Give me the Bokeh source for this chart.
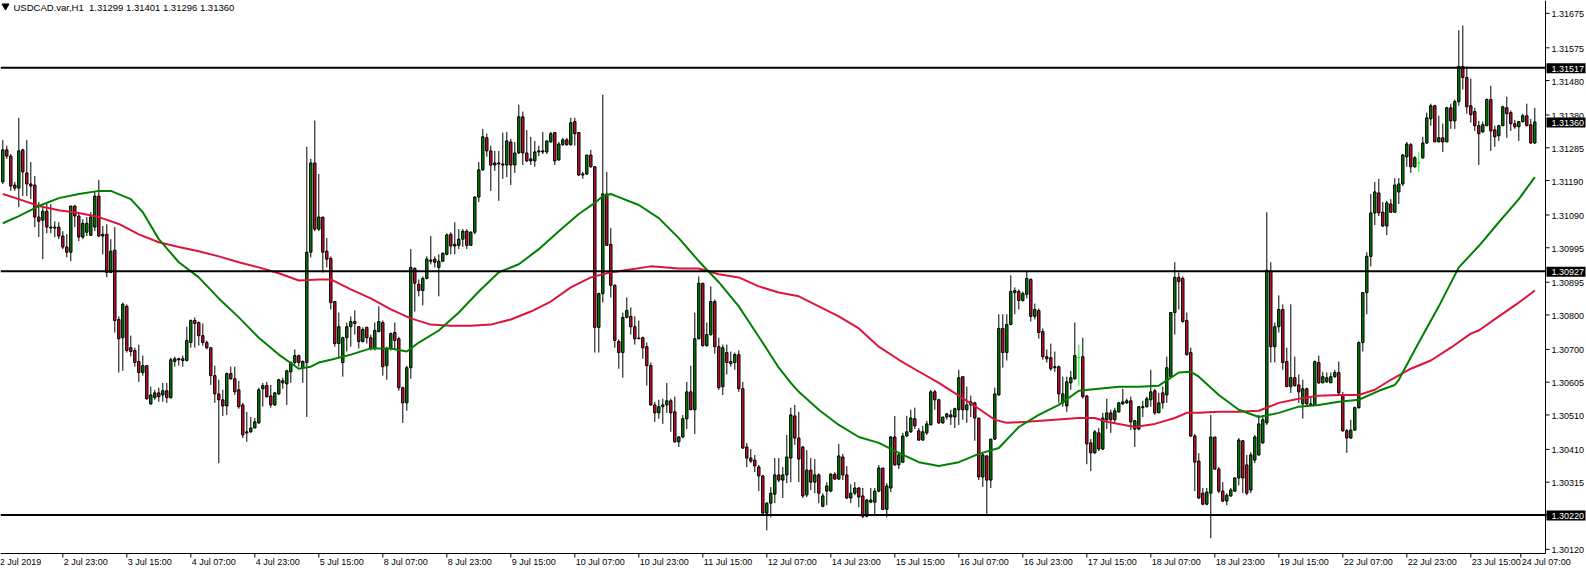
from bokeh.plotting import figure
from bokeh.models import ColumnDataSource, Range1d
from bokeh.core.properties import value
from bokeh.embed import file_html
from bokeh.resources import INLINE

symbol = "USDCAD.var,H1"

open_ = [
    1.31186, 1.31279, 1.31261, 1.31177, 1.31168, 1.31279, 1.31212, 1.31180, 1.31177, 1.31084, 1.31075, 1.31101, 1.31055, 1.31055, 1.31055, 1.31029,
    1.30997, 1.30982, 1.31116, 1.31087, 1.31026, 1.31040, 1.31031, 1.31055, 1.31145, 1.31034, 1.31034, 1.30923, 1.30988, 1.30787, 1.30734, 1.30825,
    1.30705, 1.30697, 1.30665, 1.30633, 1.30653, 1.30542, 1.30560, 1.30574, 1.30568, 1.30580, 1.30560, 1.30665, 1.30673, 1.30668, 1.30668, 1.30720,
    1.30784, 1.30778, 1.30740, 1.30720, 1.30705, 1.30624, 1.30571, 1.30554, 1.30536, 1.30630, 1.30615, 1.30583, 1.30539, 1.30461, 1.30461, 1.30472,
    1.30487, 1.30586, 1.30595, 1.30565, 1.30539, 1.30571, 1.30609, 1.30600, 1.30635, 1.30662, 1.30682, 1.30647, 1.30662, 1.30982, 1.31241, 1.31049,
    1.31084, 1.30985, 1.30964, 1.30839, 1.30717, 1.30662, 1.30734, 1.30766, 1.30781, 1.30766, 1.30723, 1.30764, 1.30734, 1.30703, 1.30752, 1.30778,
    1.30653, 1.30703, 1.30749, 1.30731, 1.30589, 1.30545, 1.30647, 1.30935, 1.30889, 1.30871, 1.30906, 1.30956, 1.30962, 1.30938, 1.30956, 1.30976,
    1.31034, 1.31000, 1.31002, 1.31020, 1.31043, 1.31002, 1.31040, 1.31142, 1.31221, 1.31314, 1.31276, 1.31241, 1.31241, 1.31238, 1.31235, 1.31302,
    1.31235, 1.31270, 1.31375, 1.31270, 1.31253, 1.31247, 1.31273, 1.31273, 1.31273, 1.31302, 1.31329, 1.31250, 1.31294, 1.31308, 1.31294, 1.31361,
    1.31329, 1.31209, 1.31209, 1.31264, 1.31230, 1.30764, 1.30862, 1.31151, 1.31005, 1.30886, 1.30723, 1.30691, 1.30793, 1.30796, 1.30766, 1.30733,
    1.30734, 1.30708, 1.30653, 1.30539, 1.30516, 1.30534, 1.30539, 1.30551, 1.30519, 1.30432, 1.30446, 1.30499, 1.30577, 1.30525, 1.30731, 1.30892,
    1.30711, 1.30743, 1.30839, 1.30708, 1.30592, 1.30691, 1.30665, 1.30662, 1.30685, 1.30586, 1.30417, 1.30385, 1.30379, 1.30359, 1.30333, 1.30225,
    1.30254, 1.30280, 1.30336, 1.30321, 1.30336, 1.30385, 1.30507, 1.30443, 1.30417, 1.30278, 1.30350, 1.30315, 1.30336, 1.30245, 1.30289, 1.30289,
    1.30338, 1.30324, 1.30388, 1.30336, 1.30269, 1.30283, 1.30298, 1.30275, 1.30216, 1.30257, 1.30257, 1.30289, 1.30356, 1.30236, 1.30298, 1.30446,
    1.30365, 1.30373, 1.30449, 1.30461, 1.30499, 1.30464, 1.30437, 1.30458, 1.30481, 1.30577, 1.30554, 1.30487, 1.30504, 1.30510, 1.30504, 1.30525,
    1.30621, 1.30525, 1.30539, 1.30545, 1.30501, 1.30330, 1.30391, 1.30321, 1.30440, 1.30568, 1.30761, 1.30691, 1.30772, 1.30865, 1.30868, 1.30842,
    1.30860, 1.30903, 1.30796, 1.30813, 1.30752, 1.30679, 1.30676, 1.30650, 1.30650, 1.30545, 1.30536, 1.30603, 1.30615, 1.30676, 1.30679, 1.30565,
    1.30429, 1.30400, 1.30458, 1.30411, 1.30496, 1.30516, 1.30496, 1.30519, 1.30542, 1.30545, 1.30551, 1.30469, 1.30469, 1.30531, 1.30534, 1.30554,
    1.30580, 1.30516, 1.30574, 1.30568, 1.30621, 1.30807, 1.30909, 1.30906, 1.30784, 1.30691, 1.30449, 1.30376, 1.30283, 1.30251, 1.30283, 1.30446,
    1.30353, 1.30289, 1.30260, 1.30275, 1.30289, 1.30327, 1.30435, 1.30365, 1.30292, 1.30379, 1.30394, 1.30429, 1.30487, 1.30927, 1.30708, 1.30766,
    1.30816, 1.30665, 1.30592, 1.30618, 1.30597, 1.30542, 1.30586, 1.30539, 1.30539, 1.30662, 1.30603, 1.30606, 1.30603, 1.30621, 1.30633, 1.30568,
    1.30464, 1.30443, 1.30466, 1.30531, 1.30720, 1.30865, 1.30970, 1.31096, 1.31154, 1.31098, 1.31058, 1.31122, 1.31098, 1.31157, 1.31180, 1.31259,
    1.31294, 1.31230, 1.31241, 1.31256, 1.31299, 1.31369, 1.31407, 1.31302, 1.31314, 1.31302, 1.31401, 1.31363, 1.31419, 1.31521, 1.31489, 1.31407,
    1.31390, 1.31349, 1.31331, 1.31349, 1.31425, 1.31337, 1.31320, 1.31349, 1.31401, 1.31387, 1.31355, 1.31346, 1.31361, 1.31378, 1.31352, 1.31299,
]

high = [
    1.31308, 1.31291, 1.31267, 1.31186, 1.31372, 1.31282, 1.31308, 1.31244, 1.31203, 1.31128, 1.31116, 1.31128, 1.31122, 1.31072, 1.31069, 1.31043,
    1.31034, 1.31116, 1.31119, 1.31093, 1.31078, 1.31084, 1.31098, 1.31157, 1.31192, 1.31058, 1.31063, 1.31020, 1.31055, 1.30796, 1.30836, 1.30831,
    1.30740, 1.30705, 1.30714, 1.30682, 1.30653, 1.30592, 1.30583, 1.30589, 1.30603, 1.30603, 1.30676, 1.30679, 1.30676, 1.30682, 1.30766, 1.30787,
    1.30793, 1.30781, 1.30775, 1.30726, 1.30705, 1.30653, 1.30612, 1.30583, 1.30633, 1.30650, 1.30650, 1.30609, 1.30545, 1.30519, 1.30504, 1.30501,
    1.30589, 1.30603, 1.30606, 1.30597, 1.30577, 1.30615, 1.30618, 1.30641, 1.30665, 1.30700, 1.30685, 1.30668, 1.31288, 1.31253, 1.31364, 1.31209,
    1.31084, 1.31023, 1.30970, 1.30839, 1.30807, 1.30737, 1.30778, 1.30796, 1.30813, 1.30766, 1.30764, 1.30766, 1.30743, 1.30778, 1.30825, 1.30784,
    1.30708, 1.30749, 1.30778, 1.30737, 1.30592, 1.30653, 1.30991, 1.30938, 1.30903, 1.30912, 1.30970, 1.31029, 1.30970, 1.30976, 1.30982, 1.31037,
    1.31040, 1.31069, 1.31049, 1.31049, 1.31049, 1.31043, 1.31145, 1.31244, 1.31340, 1.31326, 1.31291, 1.31276, 1.31276, 1.31329, 1.31331, 1.31311,
    1.31302, 1.31410, 1.31390, 1.31337, 1.31317, 1.31305, 1.31291, 1.31331, 1.31305, 1.31331, 1.31331, 1.31302, 1.31314, 1.31314, 1.31372, 1.31372,
    1.31331, 1.31215, 1.31264, 1.31279, 1.31232, 1.30865, 1.31439, 1.31215, 1.31052, 1.30889, 1.30729, 1.30807, 1.30851, 1.30822, 1.30796, 1.30784,
    1.30737, 1.30720, 1.30662, 1.30548, 1.30554, 1.30557, 1.30603, 1.30557, 1.30563, 1.30449, 1.30510, 1.30606, 1.30653, 1.30807, 1.30912, 1.30892,
    1.30778, 1.30883, 1.30845, 1.30734, 1.30714, 1.30714, 1.30694, 1.30691, 1.30697, 1.30606, 1.30429, 1.30411, 1.30394, 1.30365, 1.30336, 1.30257,
    1.30301, 1.30385, 1.30385, 1.30359, 1.30452, 1.30531, 1.30539, 1.30519, 1.30420, 1.30408, 1.30385, 1.30382, 1.30341, 1.30283, 1.30315, 1.30341,
    1.30344, 1.30426, 1.30397, 1.30362, 1.30309, 1.30315, 1.30301, 1.30298, 1.30266, 1.30298, 1.30298, 1.30365, 1.30356, 1.30312, 1.30449, 1.30507,
    1.30402, 1.30458, 1.30507, 1.30525, 1.30531, 1.30472, 1.30478, 1.30493, 1.30583, 1.30583, 1.30557, 1.30504, 1.30516, 1.30525, 1.30531, 1.30641,
    1.30621, 1.30592, 1.30566, 1.30548, 1.30501, 1.30402, 1.30394, 1.30440, 1.30589, 1.30802, 1.30802, 1.30802, 1.30915, 1.30880, 1.30874, 1.30868,
    1.30927, 1.30906, 1.30833, 1.30819, 1.30761, 1.30700, 1.30717, 1.30694, 1.30653, 1.30621, 1.30621, 1.30638, 1.30778, 1.30714, 1.30734, 1.30568,
    1.30440, 1.30466, 1.30472, 1.30516, 1.30557, 1.30525, 1.30531, 1.30548, 1.30586, 1.30557, 1.30563, 1.30496, 1.30534, 1.30551, 1.30563, 1.30641,
    1.30586, 1.30574, 1.30592, 1.30679, 1.30807, 1.30953, 1.30923, 1.30912, 1.30807, 1.30705, 1.30455, 1.30399, 1.30298, 1.30298, 1.30510, 1.30446,
    1.30359, 1.30315, 1.30283, 1.30298, 1.30330, 1.30443, 1.30437, 1.30394, 1.30402, 1.30452, 1.30510, 1.30510, 1.31098, 1.30953, 1.30778, 1.30857,
    1.30831, 1.30705, 1.30831, 1.30679, 1.30627, 1.30612, 1.30589, 1.30563, 1.30668, 1.30682, 1.30635, 1.30633, 1.30633, 1.30641, 1.30665, 1.30577,
    1.30469, 1.30496, 1.30534, 1.30723, 1.30865, 1.30982, 1.31151, 1.31186, 1.31195, 1.31128, 1.31131, 1.31136, 1.31197, 1.31197, 1.31267, 1.31302,
    1.31299, 1.31261, 1.31273, 1.31317, 1.31387, 1.31413, 1.31410, 1.31378, 1.31355, 1.31404, 1.31413, 1.31425, 1.31626, 1.31640, 1.31521, 1.31486,
    1.31401, 1.31363, 1.31361, 1.31428, 1.31465, 1.31349, 1.31352, 1.31407, 1.31433, 1.31393, 1.31366, 1.31363, 1.31384, 1.31413, 1.31369, 1.31401,
]

low = [
    1.31180, 1.31253, 1.31160, 1.31160, 1.31113, 1.31145, 1.31145, 1.31136, 1.31055, 1.31026, 1.30962, 1.31037, 1.31037, 1.31026, 1.31020, 1.30991,
    1.30967, 1.30956, 1.31055, 1.31014, 1.31020, 1.31029, 1.31029, 1.31043, 1.31026, 1.30976, 1.30909, 1.30923, 1.30749, 1.30633, 1.30638, 1.30691,
    1.30680, 1.30650, 1.30606, 1.30624, 1.30554, 1.30539, 1.30554, 1.30548, 1.30548, 1.30545, 1.30557, 1.30650, 1.30653, 1.30650, 1.30665, 1.30705,
    1.30705, 1.30711, 1.30711, 1.30700, 1.30597, 1.30545, 1.30370, 1.30507, 1.30510, 1.30612, 1.30568, 1.30528, 1.30443, 1.30432, 1.30458, 1.30472,
    1.30484, 1.30534, 1.30560, 1.30531, 1.30536, 1.30568, 1.30586, 1.30539, 1.30603, 1.30656, 1.30650, 1.30603, 1.30504, 1.30967, 1.31043, 1.31043,
    1.30923, 1.30938, 1.30816, 1.30708, 1.30676, 1.30621, 1.30694, 1.30708, 1.30743, 1.30703, 1.30720, 1.30717, 1.30697, 1.30697, 1.30749, 1.30624,
    1.30612, 1.30697, 1.30700, 1.30580, 1.30487, 1.30522, 1.30615, 1.30810, 1.30854, 1.30828, 1.30903, 1.30947, 1.30938, 1.30854, 1.30953, 1.30973,
    1.30976, 1.30976, 1.30991, 1.30997, 1.30991, 1.31000, 1.31034, 1.31128, 1.31218, 1.31259, 1.31160, 1.31218, 1.31131, 1.31195, 1.31200, 1.31177,
    1.31212, 1.31267, 1.31235, 1.31244, 1.31235, 1.31230, 1.31261, 1.31267, 1.31267, 1.31300, 1.31235, 1.31247, 1.31291, 1.31291, 1.31291, 1.31291,
    1.31203, 1.31195, 1.31206, 1.31227, 1.30691, 1.30691, 1.30836, 1.31000, 1.30851, 1.30705, 1.30644, 1.30618, 1.30790, 1.30743, 1.30714, 1.30731,
    1.30673, 1.30595, 1.30536, 1.30490, 1.30499, 1.30484, 1.30516, 1.30461, 1.30429, 1.30417, 1.30443, 1.30469, 1.30525, 1.30455, 1.30729, 1.30708,
    1.30708, 1.30740, 1.30688, 1.30583, 1.30568, 1.30627, 1.30650, 1.30641, 1.30577, 1.30411, 1.30359, 1.30370, 1.30344, 1.30289, 1.30225, 1.30175,
    1.30213, 1.30254, 1.30315, 1.30269, 1.30312, 1.30315, 1.30423, 1.30315, 1.30269, 1.30272, 1.30292, 1.30283, 1.30254, 1.30242, 1.30248, 1.30286,
    1.30321, 1.30321, 1.30321, 1.30266, 1.30254, 1.30277, 1.30242, 1.30210, 1.30213, 1.30254, 1.30216, 1.30286, 1.30234, 1.30213, 1.30286, 1.30362,
    1.30353, 1.30370, 1.30446, 1.30458, 1.30469, 1.30435, 1.30435, 1.30452, 1.30481, 1.30525, 1.30484, 1.30484, 1.30496, 1.30481, 1.30472, 1.30481,
    1.30496, 1.30487, 1.30504, 1.30435, 1.30321, 1.30301, 1.30222, 1.30298, 1.30437, 1.30566, 1.30647, 1.30668, 1.30772, 1.30802, 1.30816, 1.30839,
    1.30848, 1.30781, 1.30787, 1.30731, 1.30670, 1.30662, 1.30638, 1.30635, 1.30545, 1.30534, 1.30519, 1.30583, 1.30612, 1.30595, 1.30557, 1.30367,
    1.30347, 1.30397, 1.30405, 1.30408, 1.30469, 1.30458, 1.30487, 1.30516, 1.30539, 1.30542, 1.30466, 1.30417, 1.30466, 1.30504, 1.30531, 1.30534,
    1.30510, 1.30516, 1.30528, 1.30545, 1.30621, 1.30743, 1.30816, 1.30778, 1.30682, 1.30446, 1.30289, 1.30266, 1.30248, 1.30248, 1.30152, 1.30350,
    1.30283, 1.30257, 1.30248, 1.30272, 1.30286, 1.30306, 1.30283, 1.30277, 1.30283, 1.30370, 1.30391, 1.30426, 1.30481, 1.30662, 1.30662, 1.30749,
    1.30641, 1.30592, 1.30574, 1.30592, 1.30545, 1.30499, 1.30536, 1.30536, 1.30536, 1.30600, 1.30603, 1.30603, 1.30603, 1.30618, 1.30568, 1.30461,
    1.30400, 1.30440, 1.30464, 1.30528, 1.30694, 1.30802, 1.30941, 1.31061, 1.31087, 1.31055, 1.31032, 1.31096, 1.31096, 1.31122, 1.31174, 1.31230,
    1.31212, 1.31227, 1.31215, 1.31253, 1.31296, 1.31349, 1.31302, 1.31302, 1.31273, 1.31302, 1.31340, 1.31340, 1.31407, 1.31454, 1.31384, 1.31358,
    1.31334, 1.31235, 1.31329, 1.31349, 1.31276, 1.31288, 1.31305, 1.31349, 1.31314, 1.31334, 1.31340, 1.31305, 1.31358, 1.31349, 1.31296, 1.31296,
]

close = [
    1.31279, 1.31261, 1.31174, 1.31168, 1.31276, 1.31215, 1.31180, 1.31174, 1.31084, 1.31072, 1.31101, 1.31055, 1.31052, 1.31052, 1.31029, 1.30997,
    1.30982, 1.31116, 1.31087, 1.31026, 1.31066, 1.31066, 1.31084, 1.31145, 1.31029, 1.31029, 1.30923, 1.30985, 1.30784, 1.30731, 1.30831, 1.30697,
    1.30694, 1.30662, 1.30633, 1.30653, 1.30557, 1.30568, 1.30574, 1.30563, 1.30580, 1.30560, 1.30670, 1.30673, 1.30670, 1.30673, 1.30726, 1.30784,
    1.30775, 1.30740, 1.30720, 1.30705, 1.30624, 1.30571, 1.30554, 1.30536, 1.30630, 1.30615, 1.30577, 1.30534, 1.30452, 1.30458, 1.30472, 1.30490,
    1.30583, 1.30595, 1.30563, 1.30539, 1.30574, 1.30612, 1.30603, 1.30638, 1.30662, 1.30682, 1.30662, 1.30665, 1.30982, 1.31241, 1.31049, 1.31084,
    1.30982, 1.30962, 1.30836, 1.30717, 1.30766, 1.30734, 1.30766, 1.30781, 1.30775, 1.30723, 1.30758, 1.30734, 1.30703, 1.30755, 1.30781, 1.30650,
    1.30703, 1.30746, 1.30726, 1.30589, 1.30545, 1.30647, 1.30938, 1.30892, 1.30871, 1.30906, 1.30962, 1.30959, 1.30953, 1.30956, 1.30979, 1.31032,
    1.31000, 1.31005, 1.31020, 1.31043, 1.31002, 1.31040, 1.31142, 1.31221, 1.31317, 1.31276, 1.31235, 1.31235, 1.31238, 1.31235, 1.31305, 1.31235,
    1.31270, 1.31375, 1.31270, 1.31247, 1.31247, 1.31273, 1.31276, 1.31276, 1.31305, 1.31326, 1.31247, 1.31296, 1.31308, 1.31294, 1.31358, 1.31326,
    1.31206, 1.31206, 1.31264, 1.31230, 1.30764, 1.30862, 1.31151, 1.31002, 1.30886, 1.30726, 1.30691, 1.30793, 1.30813, 1.30766, 1.30731, 1.30731,
    1.30705, 1.30653, 1.30539, 1.30516, 1.30534, 1.30539, 1.30551, 1.30516, 1.30432, 1.30446, 1.30499, 1.30577, 1.30525, 1.30731, 1.30892, 1.30711,
    1.30743, 1.30839, 1.30708, 1.30589, 1.30705, 1.30662, 1.30659, 1.30685, 1.30586, 1.30414, 1.30385, 1.30376, 1.30362, 1.30333, 1.30225, 1.30254,
    1.30283, 1.30336, 1.30321, 1.30336, 1.30388, 1.30510, 1.30443, 1.30382, 1.30275, 1.30350, 1.30315, 1.30336, 1.30283, 1.30275, 1.30304, 1.30338,
    1.30324, 1.30391, 1.30336, 1.30269, 1.30283, 1.30298, 1.30272, 1.30216, 1.30263, 1.30263, 1.30289, 1.30356, 1.30236, 1.30304, 1.30446, 1.30365,
    1.30394, 1.30449, 1.30461, 1.30501, 1.30478, 1.30437, 1.30461, 1.30484, 1.30577, 1.30554, 1.30487, 1.30504, 1.30513, 1.30504, 1.30528, 1.30618,
    1.30525, 1.30539, 1.30548, 1.30501, 1.30330, 1.30394, 1.30321, 1.30440, 1.30571, 1.30761, 1.30691, 1.30772, 1.30868, 1.30871, 1.30842, 1.30862,
    1.30906, 1.30796, 1.30816, 1.30749, 1.30679, 1.30673, 1.30644, 1.30647, 1.30571, 1.30571, 1.30606, 1.30618, 1.30682, 1.30676, 1.30563, 1.30426,
    1.30400, 1.30461, 1.30411, 1.30501, 1.30516, 1.30496, 1.30522, 1.30545, 1.30548, 1.30551, 1.30490, 1.30493, 1.30534, 1.30534, 1.30557, 1.30577,
    1.30516, 1.30545, 1.30545, 1.30647, 1.30807, 1.30909, 1.30897, 1.30781, 1.30685, 1.30449, 1.30373, 1.30269, 1.30251, 1.30286, 1.30446, 1.30353,
    1.30289, 1.30260, 1.30277, 1.30292, 1.30327, 1.30437, 1.30327, 1.30283, 1.30394, 1.30446, 1.30484, 1.30496, 1.30930, 1.30708, 1.30766, 1.30816,
    1.30662, 1.30592, 1.30618, 1.30595, 1.30577, 1.30586, 1.30542, 1.30542, 1.30665, 1.30603, 1.30621, 1.30618, 1.30621, 1.30633, 1.30574, 1.30464,
    1.30443, 1.30466, 1.30531, 1.30720, 1.30865, 1.30970, 1.31096, 1.31157, 1.31096, 1.31058, 1.31125, 1.31098, 1.31177, 1.31180, 1.31264, 1.31296,
    1.31230, 1.31256, 1.31241, 1.31299, 1.31372, 1.31407, 1.31302, 1.31314, 1.31302, 1.31401, 1.31363, 1.31419, 1.31521, 1.31489, 1.31404, 1.31381,
    1.31349, 1.31326, 1.31352, 1.31425, 1.31334, 1.31317, 1.31349, 1.31404, 1.31384, 1.31355, 1.31346, 1.31361, 1.31378, 1.31349, 1.31299, 1.31360,
]

# moving averages (bar index, price)
ma_fast_bar = [0, 4, 9, 14, 19, 24, 27, 32, 35, 39, 44, 49, 54, 59, 64, 69, 74, 77, 79, 82,
               87, 92, 97, 101, 104, 109, 114, 119, 124, 129, 134, 139, 144, 148, 150, 152, 154, 159, 164, 169,
               174, 179, 184, 189, 194, 197, 199, 204, 209, 214, 219, 224, 229, 234, 239, 244, 249, 254, 259, 264,
               269, 274, 279, 284, 289, 294, 297, 299, 304, 309, 314, 319, 324, 329, 334, 339, 344, 348, 349, 354,
               359, 364, 369, 374, 379, 383]
ma_fast = [1.31066, 1.31087, 1.31116, 1.31139, 1.31151, 1.31160, 1.31160, 1.31136, 1.31098, 1.31020,
           1.30953, 1.30909, 1.30848, 1.30793, 1.30734, 1.30685, 1.30644, 1.30650, 1.30662, 1.30670,
           1.30685, 1.30703, 1.30703, 1.30694, 1.30720, 1.30755, 1.30807, 1.30868, 1.30924, 1.30947,
           1.30991, 1.31043, 1.31093, 1.31125, 1.31145, 1.31151, 1.31142, 1.31119, 1.31081, 1.31023,
           1.30956, 1.30895, 1.30825, 1.30737, 1.30647, 1.30603, 1.30577, 1.30525, 1.30481, 1.30446,
           1.30429, 1.30400, 1.30373, 1.30362, 1.30373, 1.30397, 1.30414, 1.30475, 1.30510, 1.30539,
           1.30580, 1.30586, 1.30592, 1.30592, 1.30595, 1.30633, 1.30635, 1.30621, 1.30568, 1.30525,
           1.30504, 1.30516, 1.30534, 1.30539, 1.30548, 1.30554, 1.30580, 1.30597, 1.30612, 1.30720,
           1.30825, 1.30938, 1.31000, 1.31069, 1.31136, 1.31200]

ma_slow_bar = [0, 4, 9, 14, 19, 24, 29, 34, 39, 44, 49, 54, 59, 64, 69, 74, 79, 82, 87, 92,
               97, 102, 107, 112, 117, 122, 127, 132, 137, 142, 147, 152, 154, 162, 169, 174, 179, 184, 189, 194,
               199, 204, 209, 214, 219, 224, 229, 234, 239, 244, 248, 251, 256, 263, 269, 273, 276, 283, 288, 293,
               296, 299, 304, 309, 314, 319, 324, 329, 334, 339, 343, 347, 352, 357, 362, 367, 369, 374, 379, 383]
ma_slow = [1.31151, 1.31136, 1.31116, 1.31104, 1.31096, 1.31084, 1.31064, 1.31034, 1.31011, 1.30997,
           1.30985, 1.30970, 1.30953, 1.30938, 1.30921, 1.30900, 1.30903, 1.30903, 1.30874, 1.30848,
           1.30816, 1.30790, 1.30772, 1.30769, 1.30769, 1.30772, 1.30787, 1.30810, 1.30839, 1.30880,
           1.30909, 1.30924, 1.30927, 1.30941, 1.30935, 1.30935, 1.30918, 1.30909, 1.30883, 1.30865,
           1.30854, 1.30825, 1.30796, 1.30761, 1.30708, 1.30670, 1.30636, 1.30603, 1.30566, 1.30528,
           1.30496, 1.30487, 1.30490, 1.30496, 1.30501, 1.30501, 1.30490, 1.30475, 1.30484, 1.30501,
           1.30516, 1.30516, 1.30519, 1.30519, 1.30522, 1.30545, 1.30557, 1.30566, 1.30568, 1.30568,
           1.30583, 1.30612, 1.30644, 1.30668, 1.30705, 1.30746, 1.30755, 1.30796, 1.30836, 1.30871]

levels = [1.31517, 1.30927, 1.30220]

price_ticks = [1.30120, 1.30220, 1.30315, 1.30410, 1.30510, 1.30605, 1.30700, 1.30800, 1.30895,
               1.30995, 1.31090, 1.31190, 1.31285, 1.31380, 1.31480, 1.31575, 1.31675]

time_tick_bars = [0, 15, 31, 47, 63, 79, 95, 111, 127, 143, 159, 175, 191, 207, 223, 239,
                  255, 271, 287, 303, 319, 335, 351, 367, 383]
time_labels = ["2 Jul 2019", "2 Jul 23:00", "3 Jul 15:00", "4 Jul 07:00", "4 Jul 23:00",
               "5 Jul 15:00", "8 Jul 07:00", "8 Jul 23:00", "9 Jul 15:00", "10 Jul 07:00",
               "10 Jul 23:00", "11 Jul 15:00", "12 Jul 07:00", "14 Jul 23:00", "15 Jul 15:00",
               "16 Jul 07:00", "16 Jul 23:00", "17 Jul 15:00", "18 Jul 07:00", "18 Jul 23:00",
               "19 Jul 15:00", "22 Jul 07:00", "22 Jul 23:00", "23 Jul 15:00", "24 Jul 07:00"]

# ---------------- styling / layout ----------------
BULL = "#008000"
BEAR = "#C8102E"
DOJI = "#00FF00"
MA_FAST_C = "#008000"
MA_SLOW_C = "#DC143C"
FONT = "Liberation Sans"
FS = "9px"

W, H = 1586, 570
PX = 0.25                 # bars per screen pixel
PPY = 34470.0             # screen pixels per price unit
X0 = -0.575
X1 = X0 + W * PX
Y1 = 1.317123
Y0 = Y1 - H / PPY
AX = X0 + 1545 * PX       # right (price) axis line
AY = Y1 - 553 / PPY       # bottom (time) axis line

n = min(len(open_), len(high), len(low), len(close))
xs = list(range(n))
tops, bottoms, fills, edges = [], [], [], []
for i in range(n):
    o, c = open_[i], close[i]
    tops.append(max(o, c))
    bottoms.append(min(o, c))
    if c > o:
        fills.append(BULL); edges.append("black")
    elif c < o:
        fills.append(BEAR); edges.append("black")
    else:
        fills.append(DOJI); edges.append(DOJI)

src = ColumnDataSource(dict(x=xs, o=open_[:n], h=high[:n], l=low[:n], c=close[:n],
                            top=tops, bottom=bottoms, fill=fills, edge=edges))

p = figure(width=W, height=H, output_backend="svg", toolbar_location=None,
           x_range=Range1d(X0, X1), y_range=Range1d(Y0, Y1),
           x_axis_location=None, y_axis_location=None, min_border=0)
p.min_border_left = p.min_border_right = p.min_border_top = p.min_border_bottom = 0
p.grid.visible = False
p.outline_line_color = None
p.background_fill_color = "white"
p.border_fill_color = "white"

# candles
p.segment(x0="x", y0="l", x1="x", y1="h", line_color="edge", line_width=1, source=src)
p.vbar(x="x", width=0.6, top="top", bottom="bottom", fill_color="fill",
       line_color="edge", line_width=1, source=src)

# moving averages
p.line(ma_slow_bar, ma_slow, line_color=MA_SLOW_C, line_width=2)
p.line(ma_fast_bar, ma_fast, line_color=MA_FAST_C, line_width=2)

# horizontal levels
p.segment(x0=[X0] * len(levels), y0=levels, x1=[AX] * len(levels), y1=levels,
          line_color="black", line_width=2)

# ---- price axis (right) ----
p.segment(x0=[AX], y0=[AY], x1=[AX], y1=[Y1], line_color="black", line_width=1)
p.segment(x0=[AX] * len(price_ticks), y0=price_ticks,
          x1=[AX + 4 * PX] * len(price_ticks), y1=price_ticks, line_color="black", line_width=1)
p.text(x=[AX] * len(price_ticks), y=[t - 1 / PPY for t in price_ticks],
       text=[f"{t:.5f}" for t in price_ticks], x_offset=6,
       text_align="left", text_baseline="middle", text_font=value(FONT),
       text_font_size=value(FS), text_color="black")

# highlighted prices (levels + current close)
marks = levels + [close[n - 1]]
p.quad(left=[AX + 1 * PX] * len(marks), right=[AX + 40 * PX] * len(marks),
       top=[m + 4.5 / PPY for m in marks], bottom=[m - 5.5 / PPY for m in marks],
       fill_color="black", line_color=None)
p.text(x=[AX] * len(marks), y=[m - 1 / PPY for m in marks], text=[f"{m:.5f}" for m in marks],
       x_offset=6, text_align="left", text_baseline="middle", text_font=value(FONT),
       text_font_size=value(FS), text_color="white")

# ---- time axis (bottom) ----
p.segment(x0=[X0], y0=[AY], x1=[AX], y1=[AY], line_color="black", line_width=1)
shift_px = [-4] + [0] * (len(time_tick_bars) - 2) + [-14]
tick_x = [b + s * PX for b, s in zip(time_tick_bars, shift_px)]
p.segment(x0=tick_x, y0=[AY] * len(tick_x), x1=tick_x, y1=[AY - 4 / PPY] * len(tick_x),
          line_color="black", line_width=1)
p.text(x=tick_x, y=[AY - 3 / PPY] * len(tick_x), text=time_labels, x_offset=1,
       text_align="left", text_baseline="top", text_font=value(FONT),
       text_font_size=value(FS), text_color="black")

# ---- chart title ----
p.scatter(x=[X0 + 5 * PX], y=[Y1 - 5.5 / PPY], marker="inverted_triangle", size=7,
          fill_color="black", line_color="black")
title = (f"{symbol}\u00a0\u00a0{open_[n-1]:.5f} {high[n-1]:.5f} "
         f"{low[n-1]:.5f} {close[n-1]:.5f}")
p.text(x=[X0 + 13 * PX], y=[Y1 - 1 / PPY], text=[title], text_align="left",
       text_baseline="top", text_font=value(FONT), text_font_size=value("9.5px"),
       text_color="black")

open("out.html", "w").write(file_html(p, INLINE))
